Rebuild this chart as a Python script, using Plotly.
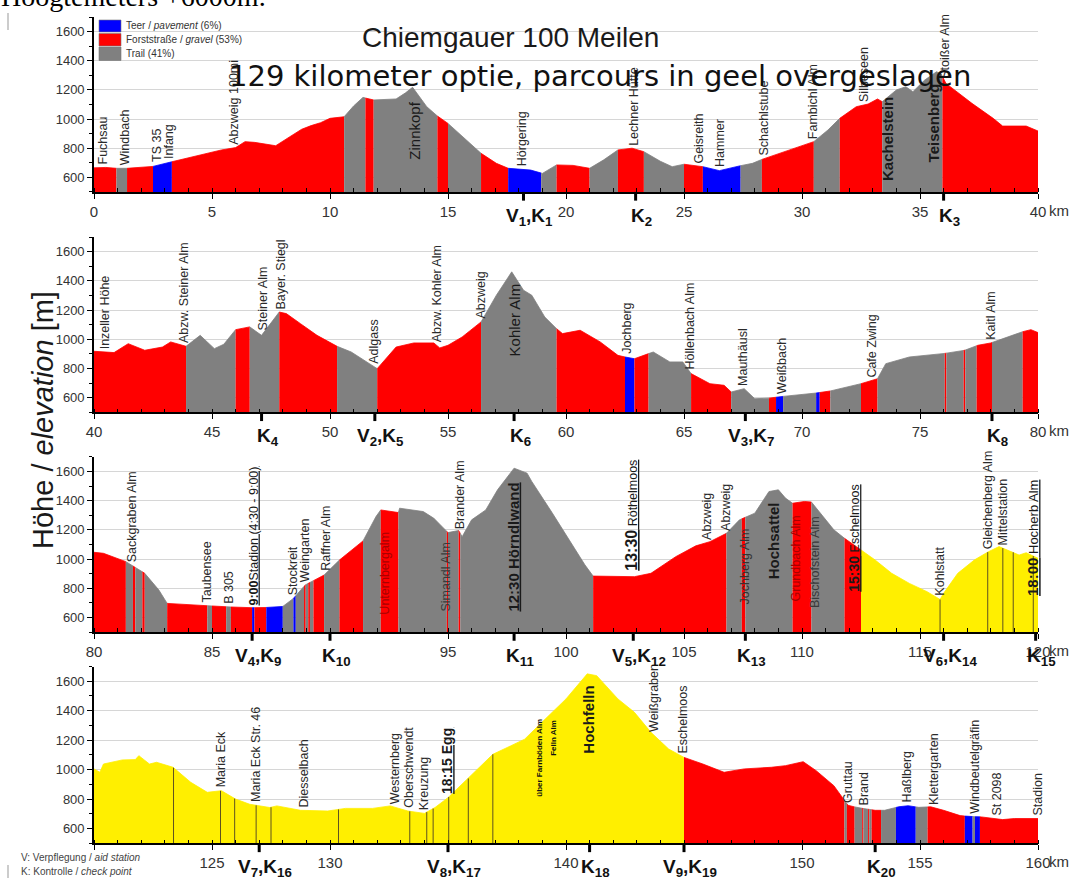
import numpy as np
import plotly.graph_objects as go

# ---------------- data ----------------
KM = [0.0, 0.5, 0.95, 1.4, 2.0, 2.5, 3.0, 3.3, 4.2, 5.0, 5.4, 6.0, 6.4, 6.8, 7.1, 7.7, 8.3, 8.8, 9.2, 9.6,
      10.0, 10.6, 11.0, 11.4, 11.6, 11.85, 12.4, 12.8, 13.2, 13.5, 14.1, 14.55, 15.0, 15.7, 16.4, 17.05, 17.55,
      18.5, 19.0, 19.6, 20.3, 21.0, 21.6, 22.2, 22.8, 23.3, 24.0, 24.5, 25.0, 25.8, 26.5, 27.4, 27.9, 28.3,
      29.5, 30.5, 31.1, 31.6, 32.3, 32.8, 33.2, 33.4, 34.0, 34.4, 34.7, 35.2, 35.7, 35.9, 36.1, 37.2, 38.1,
      38.5, 39.5,
      40.0, 40.85, 41.45, 42.15, 42.9, 43.25, 43.9, 44.5, 45.1, 45.5, 46.0, 46.6, 47.1, 47.85, 48.15, 48.75,
      49.45, 50.3, 50.9, 52.0, 52.8, 53.55, 54.4, 54.65, 55.0, 55.6, 56.4, 57.05, 57.7, 58.2, 58.55, 59.1,
      59.6, 59.85, 60.6, 61.45, 62.2, 62.5, 62.9, 63.5, 63.7, 64.4, 64.95, 65.3, 66.1, 66.7, 67.0, 67.55,
      68.0, 68.6, 69.2, 70.6, 71.2, 72.5, 73.2, 73.55, 74.55, 76.0, 76.9, 77.45, 78.0, 78.9, 79.3, 79.7,
      80.0, 80.4, 81.35, 82.15, 82.75, 83.1, 84.0, 84.8, 85.6, 86.5, 87.3, 88.0, 88.45, 88.95, 89.75, 90.4,
      91.4, 91.95, 92.15, 92.9, 92.95, 93.95, 94.4, 95.0, 95.45, 95.6, 96.0, 96.6, 97.1, 97.8, 98.35, 98.55,
      99.4, 100.3, 100.8, 101.15, 102.9, 103.6, 104.65, 105.5, 106.1, 106.8, 107.35, 108.0, 108.6, 109.0,
      109.3, 109.6, 110.1, 110.4, 110.9, 111.35, 111.8, 112.5, 113.1, 113.8, 114.55, 115.3, 115.85, 116.0,
      116.6, 117.3, 117.9, 118.35, 118.9, 119.2, 119.5,
      120.0, 120.25, 120.4, 121.2, 121.75, 121.9, 122.35, 122.65, 123.35, 124.1, 124.8, 125.4, 126.0, 126.6,
      127.45, 127.75, 128.75, 129.9, 130.65, 131.8, 132.55, 133.3, 134.0, 134.45, 135.0, 135.9, 136.9,
      137.65, 138.25, 138.9, 140.0, 140.9, 141.3, 142.2, 142.9, 143.6, 144.35, 145.0, 145.8, 146.7, 147.55,
      148.7, 149.3, 150.05, 150.6, 151.35, 151.95, 152.36, 153.1, 153.5, 154.1, 154.5, 154.95, 155.45,
      156.0, 156.7, 157.0, 157.6, 158.5, 159.0, 160.0]
ELEV = [665, 668, 662, 662, 668, 675, 695, 707, 742, 772, 788, 804, 845, 840, 833, 817, 879, 930, 955, 975,
        1005, 1016, 1090, 1149, 1140, 1131, 1138, 1138, 1180, 1218, 1085, 1021, 970, 867, 765, 696, 662,
        650, 627, 685, 682, 662, 720, 788, 800, 776, 710, 673, 690, 673, 646, 680, 696, 723,
        790, 845, 925, 1005, 1085, 1103, 1138, 1119, 1200, 1222, 1188, 1268, 1325, 1309, 1245, 1108, 1005,
        952, 952,
        918, 909, 970, 925, 947, 982, 952, 1027, 936, 966, 1066, 1085, 1027, 1187, 1176, 1107,
        1027, 952, 913, 799, 947, 975, 975, 941, 959, 1016, 1119, 1302, 1462, 1336, 1302, 1153,
        1073, 1039, 1062, 982, 890, 879, 867, 902, 913, 845, 845, 765, 696, 685, 639, 662,
        593, 597, 609, 632, 646, 696, 730, 833, 879, 902, 925, 959, 975, 1027, 1050, 1066,
        1046, 1039, 982, 902, 787, 696, 688, 680, 673, 666, 668, 675, 730, 822, 890, 993,
        1124, 1291, 1336, 1318, 1348, 1325, 1279, 1181, 1195, 1153, 1268, 1336, 1474, 1622, 1588, 1531,
        1320, 1090, 960, 883, 879, 902, 1016, 1090, 1119, 1176, 1268, 1314, 1462, 1474,
        1417, 1382, 1394, 1390, 1291, 1200, 1142, 1062, 993, 902, 833, 776, 723, 765,
        902, 993, 1050, 1085, 1050, 1027, 1043,
        1005, 982, 1038, 1066, 1068, 1095, 1038, 1050, 1016, 914, 846, 857, 800, 765,
        743, 754, 724, 719, 737, 737, 754, 719, 703, 743, 810, 946, 1104,
        1161, 1207, 1309, 1480, 1650, 1638, 1480, 1389, 1253, 1140, 1083, 1038, 982, 1005,
        1016, 1027, 1054, 993, 891, 758, 742, 724, 724, 748, 755, 744, 748,
        724, 688, 683, 679, 661, 668, 668]

# surface segments: end km of each segment and its surface
# P = Teer/pavement, F = Forststraße/gravel, T = Trail, Y = skipped (yellow)
SEG_END = [0.95, 1.4, 2.5, 3.3, 10.6, 11.5, 11.85, 14.55, 15.0, 16.4, 17.55, 18.95, 19.6, 21.0, 22.2, 23.3,
           25.0, 25.8, 27.4, 28.3, 30.5, 31.6, 33.4, 35.95, 43.9, 46.0, 46.6, 47.85, 50.3, 52.0, 56.4, 59.6,
           62.5, 62.9, 63.5, 65.3, 67.0, 68.6, 68.9, 69.2, 70.6, 70.75, 71.2, 72.5, 73.2, 76.05, 76.12, 76.85,
           76.92, 77.4, 78.05, 79.35, 81.35, 81.65, 81.75, 82.05, 82.15, 83.1, 84.8, 85.0, 85.6, 85.8, 86.7,
           86.8, 87.3, 88.0, 88.45, 88.55, 88.9, 88.97, 89.08, 89.15, 89.3, 89.75, 90.4, 91.4, 92.15, 92.9,
           94.95, 95.0, 95.45, 95.52, 101.15, 106.8, 107.45, 107.6, 109.6, 110.4, 111.8, 112.5, 145.0, 151.8,
           151.9, 152.23, 152.55, 152.6, 152.8, 152.85, 152.95, 153.35, 153.98, 154.82, 155.32, 156.9,
           157.23, 157.33, 157.54, 160.0]
SEG_SURFACE = ['F', 'T', 'F', 'P', 'F', 'T', 'F', 'T', 'F', 'T', 'F', 'P', 'T', 'F', 'T', 'F',
               'T', 'F', 'P', 'T', 'F', 'T', 'F', 'T', 'F', 'T', 'F', 'T', 'F', 'T', 'F', 'T',
               'F', 'P', 'F', 'T', 'F', 'T', 'F', 'P', 'T', 'P', 'F', 'T', 'F', 'T', 'F', 'T',
               'F', 'T', 'F', 'T', 'F', 'T', 'F', 'T', 'F', 'T', 'F', 'T', 'F', 'T', 'F',
               'P', 'F', 'P', 'T', 'P', 'T', 'F', 'T', 'F', 'T', 'F', 'T', 'F', 'T', 'F',
               'T', 'F', 'T', 'F', 'T', 'F', 'T', 'F', 'T', 'F', 'T', 'F', 'Y', 'F',
               'T', 'F', 'T', 'F', 'T', 'F', 'T', 'F', 'T', 'P', 'T', 'F',
               'P', 'T', 'P', 'F']

# thin section boundaries drawn inside the skipped (yellow) part
YELLOW_LINES = [115.85, 117.87, 118.51, 118.95, 119.8, 123.37, 125.36, 125.96, 126.87, 127.5, 130.36,
                133.38, 134.1, 134.37, 135.03, 135.86, 136.9]

# waypoint labels sitting on the profile
LABEL_KM = [0.38, 1.31, 2.67, 3.18, 5.95, 18.15, 22.9, 25.65, 26.55, 28.35, 30.45, 32.6, 36.07,
            40.48, 43.84, 47.15, 47.93, 51.87, 54.54, 56.4, 62.55, 65.27, 67.5, 69.17, 72.95, 77.98,
            81.62, 84.8, 85.74, 88.44, 88.95, 89.82, 95.49, 105.97, 106.77, 115.87, 117.87, 118.51,
            125.36, 126.87, 128.9, 132.77, 133.35, 133.98, 143.7, 144.95, 151.97, 152.64, 154.45, 155.6,
            157.33, 158.27, 160.0]
LABEL_TEXT = ["Fuchsau", "Windbach", "TS 35", "Infang", "Abzweig 100mi", "Hörgering", "Lechner Hütte",
              "Geisreith", "Hammer", "Schachlstube", "Fambichl Alm", "Silbeseen", "Stoißer Alm",
              "Inzeller Höhe", "Abzw. Steiner Alm", "Steiner Alm", "Bayer. Stiegl", "Adlgass",
              "Abzw. Kohler Alm", "Abzweig", "Jochberg", "Höllenbach Alm", "Mauthäusl", "Weißbach",
              "Cafe Zwing", "Kaitl Alm",
              "Sackgraben Alm", "Taubensee", "B 305", "Stockreit", "Weingarten", "Raffner Alm",
              "Brander Alm", "Abzweig", "Abzweig", "Kohlstatt", "Gleichenberg Alm", "Mittelstation",
              "Maria Eck", "Maria Eck Str. 46", "Diesselbach", "Westernberg", "Oberschwendt", "Kreuzung",
              "Weißgraben", "Eschelmoos", "Gruttau", "Brand", "Haßlberg", "Klettergarten",
              "Windbeutelgräfin", "St 2098", "Stadion"]

# summit names written inside the profile
PEAK_KM = [13.6, 33.6, 35.55, 57.8, 108.8, 140.95]
PEAK_TEXT = ["Zinnkopf", "Kachelstein", "Teisenberg", "Kohler Alm", "Hochsattel", "Hochfelln"]

# names written inside the filled profile
INNER_KM = [92.35, 94.9, 107.57, 109.75, 110.55, 138.84, 139.49]
INNER_TEXT = ["Unternbergalm", "Simandl Alm", "Jochberg Alm", "Grundbach Alm", "Bischofstein Alm",
              "über Farnböden Alm", "Felln Alm"]

# cut-off times
TIME_KM = [86.76, 97.78, 102.77, 112.2, 119.77, 134.96]
TIME_TEXT = ["<u><b>9:00</b>Stadion (4:30 - 9:00)</u>", "<u><b>12:30 Hörndlwand</b></u>",
             "<u><span style='font-size:16px'><b>13:30</b></span> Röthelmoos</u>",
             "<u><span style='font-size:14px'><b>15:30</b></span> Eschelmoos</u>",
             "<u><span style='font-size:15px'><b>18:00</b></span> Hocherb Alm</u>",
             "<u><b>18:15 Egg</b></u>"]

# aid stations (V) / check points (K)
CP_KM = [18.2, 22.95, 36.0, 47.1, 51.9, 57.8, 67.6, 78.05, 86.7, 90.0, 97.8, 102.85, 107.6, 116.0,
         119.9, 127.0, 135.0, 141.0, 145.0, 153.1]
CP_V = [1, None, None, None, 2, None, 3, None, 4, None, None, 5, None, 6, None, 7, 8, None, 9, None]
CP_K = list(range(1, 21))

PANEL_START = [0, 40, 80, 120]
PANEL_SPAN = 40
Y_TICKS = [600, 800, 1000, 1200, 1400, 1600]
HIDDEN_TICK_LABELS = [90, 120, 135, 145]   # covered by checkpoint labels in the original

LEGEND_TEXT = ["Teer / <i>pavement</i> (6%)", "Forststraße / <i>gravel</i> (53%)", "Trail (41%)"]
LEGEND_KEYS = ['P', 'F', 'T']

# ---------------- styling ----------------
COLORS = {'P': '#0000ff', 'F': '#ff0000', 'T': '#808080', 'Y': '#ffef00'}
SANS = "Liberation Sans, Arial, sans-serif"
W, H = 1069, 878
ML, MR = 94, 31
PANEL_PX = [(191.9, 17.1), (412.3, 237.1), (632.0, 456.8), (843.3, 666.5)]  # (bottom, top) pixels

km_arr = np.array(KM, dtype=float)
el_arr = np.array(ELEV, dtype=float)


def elev_at(k):
    return float(np.interp(k, km_arr, el_arr))


def profile_between(a, b):
    inner = km_arr[(km_arr > a) & (km_arr < b)]
    xs = np.concatenate([[a], inner, [b]])
    return xs, np.interp(xs, km_arr, el_arr)


def names(p):
    return ('x' if p == 0 else f'x{p+1}', 'y' if p == 0 else f'y{p+1}')


def panel_of(k):
    for p in range(4):
        if PANEL_START[p] <= k <= PANEL_START[p] + PANEL_SPAN:
            return p
    return 3


fig = go.Figure()

starts = [0.0] + SEG_END[:-1]
for p in range(4):
    lo, hi = PANEL_START[p], PANEL_START[p] + PANEL_SPAN
    xa, ya = names(p)
    for s, e, t in zip(starts, SEG_END, SEG_SURFACE):
        a, b = max(s, lo), min(e, hi)
        if b <= a:
            continue
        xs, ys = profile_between(a, b)
        fig.add_trace(go.Scatter(x=xs, y=ys, xaxis=xa, yaxis=ya, mode='lines', fill='tozeroy',
                                 fillcolor=COLORS[t], line=dict(color=COLORS[t], width=0.8),
                                 hoverinfo='skip', showlegend=False))
    for k in YELLOW_LINES:
        if lo <= k <= hi:
            fig.add_trace(go.Scatter(x=[k, k], y=[0, elev_at(k)], xaxis=xa, yaxis=ya, mode='lines',
                                     line=dict(color='#5e5220', width=1), hoverinfo='skip',
                                     showlegend=False))

annotations = []
shapes = []
layout_axes = {}
for p in range(4):
    lo, hi = PANEL_START[p], PANEL_START[p] + PANEL_SPAN
    xa, ya = names(p)
    bot, top = PANEL_PX[p]
    xkey = 'xaxis' if p == 0 else f'xaxis{p+1}'
    ykey = 'yaxis' if p == 0 else f'yaxis{p+1}'
    tv = list(range(lo, hi + 1, 5))
    tt = []
    for v in tv:
        if v in HIDDEN_TICK_LABELS and not (v == 120 and p == 2):
            tt.append('')
        else:
            tt.append(str(v))
    layout_axes[xkey] = dict(domain=[0, 1], anchor=ya, range=[lo, hi], tickmode='array', tickvals=tv,
                             ticktext=tt, showline=True, linecolor='black',
                             linewidth=1.6, ticks='outside', ticklen=5, tickcolor='black', tickwidth=1,
                             minor=dict(ticks='inside', tick0=0, dtick=1, ticklen=4, tickcolor='black',
                                        tickwidth=1),
                             showgrid=False, zeroline=False,
                             tickfont=dict(family=SANS, size=15, color='#333'))
    layout_axes[ykey] = dict(domain=[1 - bot / H, 1 - top / H], anchor=xa, range=[500, 1700],
                             tickmode='array', tickvals=Y_TICKS, showgrid=True, gridcolor='#d6d6d6',
                             gridwidth=1, showline=True, linecolor='black', linewidth=1.6,
                             ticks='outside', ticklen=5, tickcolor='black',
                             minor=dict(ticks='outside', tick0=500, dtick=100, ticklen=3,
                                        tickcolor='black', showgrid=False),
                             zeroline=False, tickfont=dict(family=SANS, size=13, color='#333'))
    annotations.append(dict(text='km', x=hi, xref=xa, y=0, yref=f'{ya} domain', xanchor='left',
                            yanchor='top', xshift=9, yshift=-8, showarrow=False,
                            font=dict(family=SANS, size=15, color='#333')))

# waypoint labels
for k, t in zip(LABEL_KM, LABEL_TEXT):
    xa, ya = names(panel_of(k))
    annotations.append(dict(text=t, x=k, y=elev_at(k), xref=xa, yref=ya, textangle=-90,
                            xanchor='center', yanchor='bottom', yshift=1, showarrow=False,
                            font=dict(family=SANS, size=12.5, color='#2a2a2a')))

PEAK_CENTER = [920, 863, 977, 1130, 1126, 1342]
PEAK_WEIGHT = ['normal', 'bold', 'bold', 'normal', 'bold', 'bold']
for k, t, c, w in zip(PEAK_KM, PEAK_TEXT, PEAK_CENTER, PEAK_WEIGHT):
    xa, ya = names(panel_of(k))
    annotations.append(dict(text=t, x=k, y=c, xref=xa, yref=ya, textangle=-90, xanchor='center',
                            yanchor='middle', showarrow=False,
                            font=dict(family=SANS, size=15, color='#1a1a1a', weight=w)))

INNER_BOTTOM = [605, 627, 673, 696, 650, 800, 1080]
INNER_COLOR = ['#a80000', '#3a3a3a', '#333', '#a80000', '#3a3a3a', '#111', '#111']
INNER_SIZE = [12.5, 12.5, 12.5, 12.5, 12.5, 8, 8]
INNER_WEIGHT = ['normal'] * 5 + ['bold', 'bold']
for k, t, b, c, s, w in zip(INNER_KM, INNER_TEXT, INNER_BOTTOM, INNER_COLOR, INNER_SIZE, INNER_WEIGHT):
    xa, ya = names(panel_of(k))
    annotations.append(dict(text=t, x=k, y=b, xref=xa, yref=ya, textangle=-90, xanchor='center',
                            yanchor='bottom', showarrow=False,
                            font=dict(family=SANS, size=s, color=c, weight=w)))

TIME_BOTTOM = [668, 627, 905, 765, 730, 822]
TIME_SIZE = [12.5, 15, 12.5, 12.5, 13, 14]
for k, t, b, s in zip(TIME_KM, TIME_TEXT, TIME_BOTTOM, TIME_SIZE):
    xa, ya = names(panel_of(k))
    annotations.append(dict(text=t, x=k, y=b, xref=xa, yref=ya, textangle=-90, xanchor='center',
                            yanchor='bottom', showarrow=False,
                            font=dict(family=SANS, size=s, color='#1a1a1a')))

# check points
for k, v, kk in zip(CP_KM, CP_V, CP_K):
    xa, ya = names(panel_of(k))
    txt = (f"V<sub>{v}</sub>," if v else "") + f"K<sub>{kk}</sub>"
    annotations.append(dict(text=txt, x=k, y=0, xref=xa, yref=f'{ya} domain', xanchor='center',
                            yanchor='top', xshift=6, yshift=-11, showarrow=False,
                            font=dict(family=SANS, size=19, color='#111', weight='bold')))
    shapes.append(dict(type='line', xref=xa, yref=f'{ya} domain', x0=k, x1=k, y0=0, y1=-0.05,
                       line=dict(color='black', width=3)))

PW = W - ML - MR


def px(xp):
    return (xp - ML) / PW


def py(yp):
    return 1 - yp / H


# legend
LEG_BOX = [(20, 32), (33.5, 46), (47, 60.5)]
for (y0, y1), key, txt in zip(LEG_BOX, LEGEND_KEYS, LEGEND_TEXT):
    shapes.append(dict(type='rect', xref='paper', yref='paper', x0=px(99), x1=px(121), y0=py(y1),
                       y1=py(y0), fillcolor=COLORS[key], line=dict(color='#777', width=0.6)))
    annotations.append(dict(text=txt, xref='paper', yref='paper', x=px(124), y=py((y0 + y1) / 2),
                            xanchor='left', yanchor='middle', showarrow=False,
                            font=dict(family=SANS, size=10, color='#333')))

# titles
annotations.append(dict(text='Hoogtemeters +6000m.', xref='paper', yref='paper', x=px(-1), y=py(-3),
                        xanchor='left', yanchor='middle', showarrow=False,
                        font=dict(family='Liberation Serif, Times New Roman, serif', size=28,
                                  color='#000')))
annotations.append(dict(text='Höhe / <i>elevation</i> [m]', xref='paper', yref='paper', x=px(43),
                        y=py(420), textangle=-90, xanchor='center', yanchor='middle', showarrow=False,
                        font=dict(family=SANS, size=29, color='#1a1a1a')))
annotations.append(dict(text='V: Verpflegung / <i>aid station</i>', xref='paper', yref='paper',
                        x=px(19), y=py(857), xanchor='left', yanchor='middle', showarrow=False,
                        font=dict(family=SANS, size=10, color='#444')))
annotations.append(dict(text='K: Kontrolle / <i>check point</i>', xref='paper', yref='paper',
                        x=px(19), y=py(871), xanchor='left', yanchor='middle', showarrow=False,
                        font=dict(family=SANS, size=10, color='#444')))
annotations.append(dict(text='Chiemgauer 100 Meilen', xref='paper', yref='paper', x=px(510),
                        y=py(38), xanchor='center', yanchor='middle', showarrow=False,
                        font=dict(family=SANS, size=28, color='#1a1a1a')))
annotations.append(dict(text='129 kilometer optie, parcours in geel overgeslagen', xref='paper',
                        yref='paper', x=px(600), y=py(76), xanchor='center', yanchor='middle',
                        showarrow=False, font=dict(family='DejaVu Sans, sans-serif', size=29,
                                                   color='#111')))

# cursor marks at the left edge
shapes.append(dict(type='line', xref='paper', yref='paper', x0=px(8), x1=px(8), y0=py(30), y1=py(13),
                   line=dict(color='#999', width=1)))
shapes.append(dict(type='line', xref='paper', yref='paper', x0=px(8), x1=px(8), y0=py(878),
                   y1=py(865), line=dict(color='#999', width=1)))

fig.update_layout(width=W, height=H, margin=dict(l=ML, r=MR, t=0, b=0), plot_bgcolor='white',
                  paper_bgcolor='white', showlegend=False, annotations=annotations, shapes=shapes,
                  **layout_axes)

fig.write_html("out.html", config={'displayModeBar': False},
               post_script="document.body.style.margin='0px';document.body.style.overflow='hidden';")
